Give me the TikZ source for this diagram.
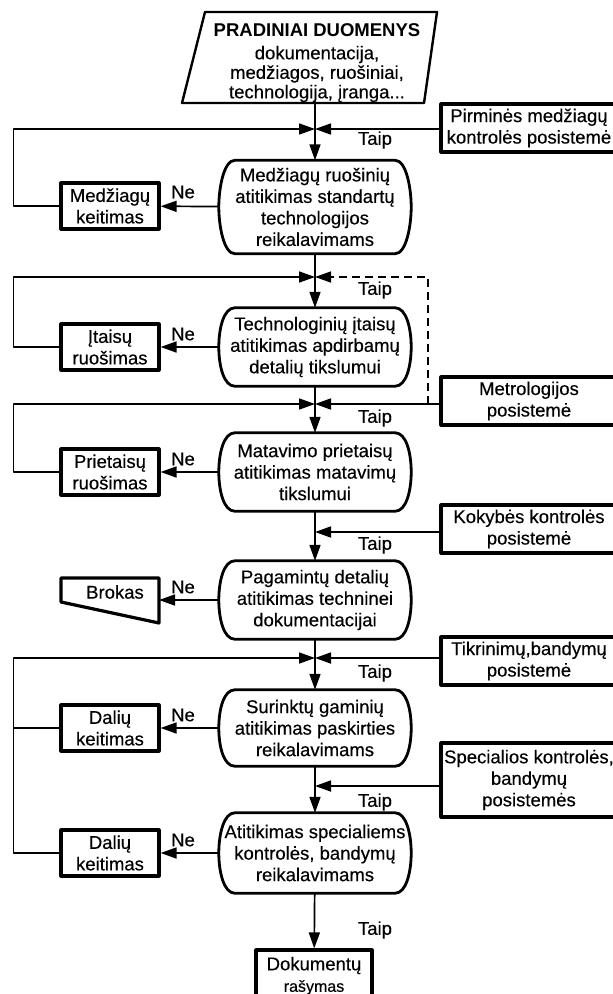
\documentclass[tikz,border=0pt]{standalone}
\usepackage{fontspec}
\setmainfont{Liberation Sans}[UprightFeatures={FakeBold=0.35}]
\usetikzlibrary{arrows.meta,calc,positioning}

% outline with bulging sides round a node
\newcommand\bulgebox[1]{%
\draw[line width=2.8pt] ($(#1.north west)+(16,0)$) -- ($(#1.north east)+(-16,0)$)
  .. controls ($(#1.north east)+(-5,0)$) and ($(#1.east)+(0,-19)$) .. (#1.east)
  .. controls ($(#1.east)+(0,19)$) and ($(#1.south east)+(-5,0)$) .. ($(#1.south east)+(-16,0)$)
  -- ($(#1.south west)+(16,0)$)
  .. controls ($(#1.south west)+(5,0)$) and ($(#1.west)+(0,19)$) .. (#1.west)
  .. controls ($(#1.west)+(0,-19)$) and ($(#1.north west)+(5,0)$) .. cycle;}

\begin{document}
\begin{tikzpicture}[x=1pt,y=-1pt,line join=round,>={Triangle[length=16pt,width=11pt]}]
\tikzset{every node/.style={font=\fontsize{18.5}{21.5}\selectfont},
  dec/.style={minimum width=192pt,minimum height=78pt,align=center,inner sep=2pt},
  sub/.style={draw,line width=3.2pt,minimum width=98pt,minimum height=46pt,align=center,inner sep=1pt},
  sys/.style={draw,line width=3.2pt,minimum width=176pt,minimum height=48pt,align=center,inner sep=2pt},
  flow/.style={line width=1.7pt},
  lbl/.style={inner sep=0pt}}
\useasboundingbox (0,0) rectangle (613,994);

% start
\draw[line width=2.4pt] (182,103) -- (205,12) -- (437,12) -- (424,103) -- cycle;
\node[align=center,font=\fontsize{18.5}{19.5}\selectfont] (start) at (317,63)
  {\textbf{PRADINIAI DUOMENYS}\\[3pt]dokumentacija,\\medžiagos, ruošiniai,\\technologija, įranga...};
\coordinate (src) at (315,103);

% checks
\node[dec,minimum height=93pt] (b1) at (315,207) {Medžiagų ruošinių\\atitikimas standartų\\technologijos\\reikalavimams};
\node[dec] (b2) at (315,347) {Technologinių įtaisų\\atitikimas apdirbamų\\detalių tikslumui};
\node[dec] (b3) at (315,472) {Matavimo prietaisų\\atitikimas matavimų\\tikslumui};
\node[dec] (b4) at (315,600) {Pagamintų detalių\\atitikimas techninei\\dokumentacijai};
\node[dec,minimum height=76pt] (b5) at (315,728) {Surinktų gaminių\\atitikimas paskirties\\reikalavimams};
\node[dec,minimum height=80pt] (b6) at (315,853) {Atitikimas specialiems\\kontrolės, bandymų\\reikalavimams};
\bulgebox{b1}\bulgebox{b2}\bulgebox{b3}\bulgebox{b4}\bulgebox{b5}\bulgebox{b6}

% left side
\node[sub] (l1) at (110,206) {Medžiagų\\keitimas};
\node[sub] (l2) at (110,347) {Įtaisų\\ruošimas};
\node[sub] (l3) at (110,472) {Prietaisų\\ruošimas};
\draw[line width=3.2pt] (61,578) -- (159,578) -- (159,623) -- (61,602) -- cycle;
\node (brok) at (115,592) {Brokas};
\coordinate (brk) at (159,600);
\node[sub] (l5) at (110,728) {Dalių\\keitimas};
\node[sub] (l6) at (110,853) {Dalių\\keitimas};

% right side
\node[sys] (pirm) at (529,128) {Pirminės medžiagų\\kontrolės posistemė};
\node[sys] (metro) at (529,401) {Metrologijos\\posistemė};
\node[sys] (kok) at (529,529) {Kokybės kontrolės\\posistemė};
\node[sys] (tikr) at (529,661) {Tikrinimų,bandymų\\posistemė};
\node[sys,minimum height=74pt] (spec) at (529,780) {Specialios kontrolės,\\bandymų\\posistemės};

\node[sub,minimum width=116pt,minimum height=52pt] (doc) at (314,976) {Dokumentų\\{\fontsize{16}{18}\selectfont rašymas}};

% junctions
\coordinate (j1) at (315,129);
\coordinate (j2) at (315,277);
\coordinate (j3) at (315,404);
\coordinate (j4) at (315,532);
\coordinate (j5) at (315,658);
\coordinate (j6) at (315,786);
\coordinate (dsh) at (428,404);

% main line
\draw[flow,->] (src) -- (b1);
\draw[flow,->] (b1) -- (b2);
\draw[flow,->] (b2) -- (b3);
\draw[flow,->] (b3) -- (b4);
\draw[flow,->] (b4) -- (b5);
\draw[flow,->] (b5) -- (b6);
\draw[flow,->] (b6) -- (doc);

% Ne
\draw[flow,->] (b1) -- (l1);
\draw[flow,->] (b2) -- (l2);
\draw[flow,->] (b3) -- (l3);
\draw[flow,->] (b4) -- (brk);
\draw[flow,->] (b5) -- (l5);
\draw[flow,->] (b6) -- (l6);

% loops back
\draw[flow,->] (l1.west) -- ++(-46,0) |- (j1);
\draw[flow,->] (l2.west) -- ++(-46,0) |- (j2);
\draw[flow,->] (l3.west) -- ++(-46,0) |- (j3);
\draw[flow,->] (l6.west) -- ++(-46,0) |- (j5);
\draw[flow] (l5.west) -- ++(-46,0);

% subsystems
\draw[flow,->] (pirm.west |- j1) -- (j1);
\draw[flow,->] (metro.west |- j3) -- (j3);
\draw[flow,->] (kok.west |- j4) -- (j4);
\draw[flow,->] (tikr.west |- j5) -- (j5);
\draw[flow,->] (spec.west |- j6) -- (j6);
\draw[line width=1.4pt,dash pattern=on 8pt off 5pt,->] (dsh) |- (j2);

% labels
\foreach \y in {140,290,418,545,673,802,930}
  \node[lbl] at (375,\y) {Taip};
\foreach \y in {192,334,459,587,715,840}
  \node[lbl] at (183,\y) {Ne};
\end{tikzpicture}
\end{document}
